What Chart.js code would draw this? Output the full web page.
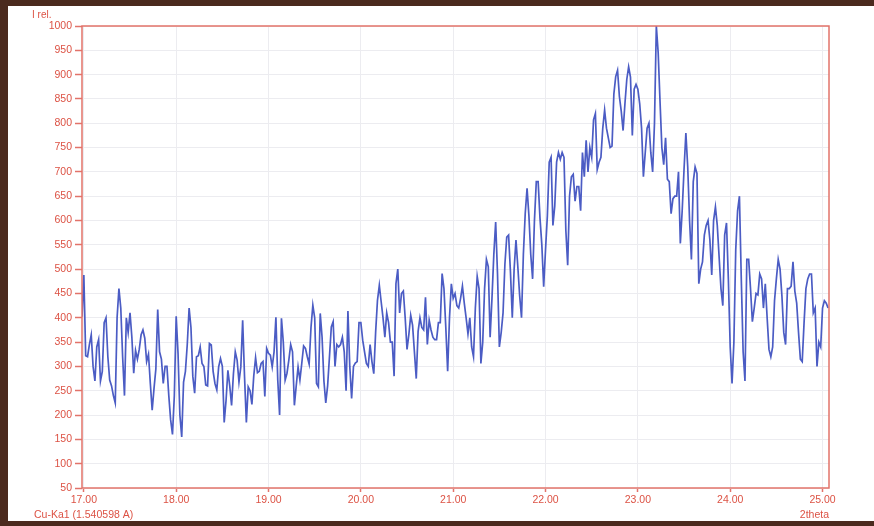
<!DOCTYPE html>
<html>
<head>
<meta charset="utf-8">
<script src="https://cdn.jsdelivr.net/npm/chart.js@4.4.1/dist/chart.umd.min.js"></script>
<style>
  html, body { margin: 0; padding: 0; background: #fff; }
  #wrap { position: relative; width: 874px; height: 526px; }
</style>
</head>
<body>
<div id="wrap"><canvas id="xrd" width="874" height="526"></canvas></div>
<script>
// scan: 2theta from 16.98 with 0.02 deg step
const thetaStart = 16.98;
const thetaStep = 0.02;

// intensity (I rel.), in pieces along 2theta
const int1698 = [402, 488, 322, 320, 345, 365, 300, 270, 340, 355, 270, 290, 390, 400, 320, 272, 260, 240, 225, 400,
  460, 420, 320, 240, 400, 370, 410, 360, 286, 333, 315, 335, 365, 375, 358, 310, 325, 265, 210, 255,
  295, 417, 330, 315, 265, 300, 300, 240, 190, 160, 240];
const int1800 = [403, 327, 200, 155, 268, 290, 345, 420, 380, 280, 245, 320, 322, 340, 306, 300, 262, 260, 347, 344,
  290, 265, 252, 299, 316, 300, 185, 230, 292, 260, 220, 285, 330, 313, 268, 299, 395, 280, 185, 258,
  250, 222, 280, 318, 287, 290, 306, 310, 238, 337, 327];
const int1902 = [323, 299, 330, 401, 272, 200, 399, 350, 272, 286, 313, 345, 330, 220, 260, 299, 272, 306, 342, 337,
  320, 305, 380, 426, 400, 265, 258, 409, 360, 270, 225, 260, 320, 381, 392, 300, 345, 340, 345, 360,
  330, 250, 414, 300, 234, 300, 307, 310, 390, 390, 354, 330, 306, 300, 345, 310, 285, 370, 436, 467,
  433, 400, 360, 410, 390, 350, 350, 280, 470, 500, 410, 450, 455, 400, 335, 366, 405, 385, 330, 275,
  372, 400, 380, 375, 442, 345, 395, 375, 360, 355, 355, 390, 390, 491, 460, 380, 290, 400, 470, 440];
const int2102 = [450, 425, 420, 440, 465, 430, 400, 367, 400, 340, 320, 420, 485, 460, 306, 350, 460, 520, 505, 360,
  440, 530, 597, 490, 340, 370, 410, 510, 566, 570, 495, 400, 500, 560, 505, 445, 400, 530, 614];
const int2180 = [666, 610, 530, 480, 600, 680, 680, 605, 550, 464, 540, 610, 720, 730, 590, 630, 720, 740, 726, 740,
  730, 580, 508, 650, 690, 695, 640, 670, 670, 620, 740, 690, 765, 700, 750, 730, 807, 820, 705, 720,
  730, 790, 827, 790, 770, 750, 753, 860, 896, 909, 855, 825, 785, 840, 890, 916, 895, 775, 870, 880];
const int2300 = [870, 840, 790, 690, 740, 790, 800, 740, 700, 800, 1000, 945, 845, 750, 715, 770, 685, 680, 614, 645,
  650, 650, 700, 553, 620, 705, 780, 710, 600, 520, 680, 710, 697, 470, 500, 515, 570, 590, 600, 560,
  488, 600, 628, 590, 525, 460, 425, 570, 595, 480, 340, 265, 350, 540, 620, 650, 480, 330, 270, 520,
  520, 460, 392, 420, 450, 447, 490, 480, 420, 470, 400, 335, 320, 340, 435, 480, 520, 500, 445, 370,
  345, 460, 460, 465, 515, 455, 430, 370, 315, 310, 390, 460, 480, 490, 490, 410, 420, 300, 350, 340,
  420, 435, 430, 420];

const xTicks = [17, 18, 19, 20, 21, 22, 23, 24, 25];
const yTicks = [50, 100, 150, 200, 250, 300, 350, 400, 450, 500, 550, 600, 650, 700, 750, 800, 850, 900, 950, 1000];

const intensity = [].concat(int1698, int1800, int1902, int2102, int2180, int2300);
const points = intensity.map((v, i) => ({ x: Math.round((thetaStart + i * thetaStep) * 100) / 100, y: v }));

const frameColor = '#e2736a';
const labelColor = '#dc5244';
const gridColor = '#ececf0';
const fontFamily = '"Liberation Sans", Arial, sans-serif';

const framePlugin = {
  id: 'frame',
  beforeDraw(chart) {
    const ctx = chart.ctx;
    ctx.save();
    ctx.fillStyle = '#fff';
    ctx.fillRect(0, 0, chart.width, chart.height);
    ctx.restore();
  },
  afterDraw(chart) {
    const ctx = chart.ctx;
    const a = chart.chartArea;
    ctx.save();
    ctx.strokeStyle = frameColor;
    ctx.lineWidth = 1.5;
    ctx.strokeRect(a.left, a.top, a.right - a.left, a.bottom - a.top);

    ctx.fillStyle = labelColor;
    ctx.textBaseline = 'alphabetic';
    ctx.font = '10px ' + fontFamily;
    ctx.textAlign = 'left';
    ctx.fillText('I rel.', 32, 18);
    ctx.font = '10.5px ' + fontFamily;
    ctx.fillText('Cu-Ka1 (1.540598 A)', 34, 518);
    ctx.textAlign = 'right';
    ctx.fillText('2theta', a.right, 518);

    // dark frame of the picture
    ctx.fillStyle = '#4b2a1e';
    ctx.fillRect(0, 0, chart.width, 6);
    ctx.fillRect(0, 0, 8, chart.height);
    ctx.fillRect(0, chart.height - 5, chart.width, 5);
    ctx.restore();
  }
};

new Chart(document.getElementById('xrd'), {
  type: 'line',
  data: {
    datasets: [{
      data: points,
      borderColor: '#4b5cc4',
      borderWidth: 1.7,
      pointRadius: 0,
      tension: 0,
      fill: false
    }]
  },
  options: {
    responsive: false,
    animation: false,
    devicePixelRatio: 1,
    layout: { padding: { left: 0, right: 45, top: 26, bottom: 0 } },
    plugins: { legend: { display: false }, tooltip: { enabled: false } },
    scales: {
      x: {
        type: 'linear',
        min: 16.98,
        max: 25.07,
        afterBuildTicks: axis => { axis.ticks = xTicks.map(v => ({ value: v })); },
        afterFit: axis => { axis.height = 38; },
        grid: { color: gridColor, tickColor: frameColor, tickLength: 4, tickWidth: 1.5 },
        border: { display: false },
        ticks: {
          color: labelColor,
          font: { family: fontFamily, size: 10.5 },
          padding: 2,
          autoSkip: false,
          maxRotation: 0,
          callback: v => Number(v).toFixed(2)
        }
      },
      y: {
        min: 50,
        max: 1000,
        afterBuildTicks: axis => { axis.ticks = yTicks.map(v => ({ value: v })); },
        afterFit: axis => { axis.width = 82; },
        grid: { color: gridColor, tickColor: frameColor, tickLength: 7, tickWidth: 1.5 },
        border: { display: false },
        ticks: {
          color: labelColor,
          font: { family: fontFamily, size: 10.5 },
          padding: 3,
          autoSkip: false,
          callback: v => String(v)
        }
      }
    }
  },
  plugins: [framePlugin]
});
</script>
</body>
</html>
